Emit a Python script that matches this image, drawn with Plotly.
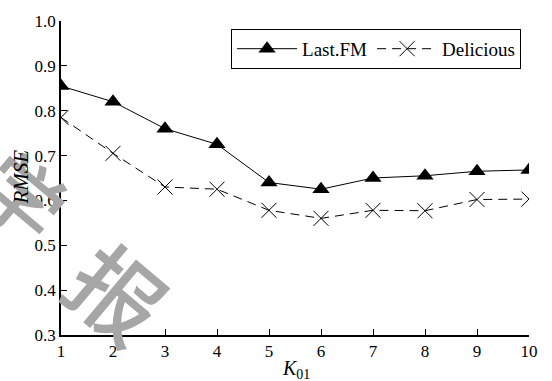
import plotly.graph_objects as go

k_values = [1, 2, 3, 4, 5, 6, 7, 8, 9, 10]
lastfm_rmse = [0.855, 0.820, 0.760, 0.725, 0.640, 0.625, 0.650, 0.655, 0.665, 0.668]
delicious_rmse = [0.785, 0.705, 0.630, 0.625, 0.578, 0.560, 0.578, 0.577, 0.602, 0.603]
y_ticks = [0.3, 0.4, 0.5, 0.6, 0.7, 0.8, 0.9, 1.0]
y_tick_labels = ["0.3", "0.4", "0.5", "0.6", "0.7", "0.8", "0.9", "1.0"]
watermark_chars = ["学", "报"]

FONT = "Liberation Serif, Times New Roman, serif"

fig = go.Figure()
fig.add_trace(go.Scatter(
    x=k_values, y=lastfm_rmse, name="Last.FM", mode="lines+markers",
    line=dict(color="black", width=1),
    marker=dict(symbol="triangle-up", size=15, color="black"),
))
fig.add_trace(go.Scatter(
    x=k_values, y=delicious_rmse, name="Delicious", mode="lines+markers",
    line=dict(color="black", width=1, dash="9px,6px"),
    marker=dict(symbol="x-thin-open", size=15, color="black",
                line=dict(color="black", width=1)),
))

fig.update_layout(
    width=552, height=381,
    margin=dict(l=61, r=23, t=16, b=46),
    paper_bgcolor="white", plot_bgcolor="white",
    font=dict(family=FONT, size=16, color="black"),
    showlegend=True,
    legend=dict(
        orientation="h", x=0.983, xanchor="right", y=0.975, yanchor="top",
        bordercolor="black", borderwidth=1, bgcolor="white",
        font=dict(family=FONT, size=19), itemwidth=60,
    ),
    xaxis=dict(
        range=[1, 10], tickvals=k_values, ticks="inside", ticklen=6,
        tickcolor="black", showline=True, linecolor="black", linewidth=1.5,
        showgrid=False, zeroline=False, tickfont=dict(family=FONT, size=17),
    ),
    yaxis=dict(
        range=[0.3, 1.0], tickvals=y_ticks, ticktext=y_tick_labels,
        ticks="inside", ticklen=6, tickcolor="black", showline=True,
        linecolor="black", linewidth=1.5, showgrid=False, zeroline=False,
        tickfont=dict(family=FONT, size=17),
    ),
    xaxis2=dict(
        overlaying="x", side="top", range=[1, 10], showline=True,
        linecolor="#808080", linewidth=1.5, ticks="", showticklabels=False,
        showgrid=False, zeroline=False,
    ),
    yaxis2=dict(
        overlaying="y", side="right", range=[0.3, 1.0], tickvals=y_ticks,
        showline=True, linecolor="#808080", linewidth=1.5, ticks="inside",
        ticklen=6, tickcolor="#808080", showticklabels=False,
        showgrid=False, zeroline=False,
    ),
)

def px_to_paper(px, py):
    return (px - 61) / 468.0, (335 - py) / 319.0

for ch, (px, py), size in zip(watermark_chars, [(24, 192), (120, 290)], [84, 92]):
    xp, yp = px_to_paper(px, py)
    fig.add_annotation(text=ch, x=xp, y=yp, xref="paper", yref="paper",
                       xanchor="center", yanchor="middle",
                       showarrow=False, textangle=40,
                       font=dict(family="Noto Sans CJK SC", size=size,
                                 color="#a6a6a6", weight=500))

xp, yp = px_to_paper(21, 175)
fig.add_annotation(text="<i>RMSE</i>", x=xp, y=yp, xref="paper", yref="paper",
                   xanchor="center", yanchor="middle",
                   showarrow=False, textangle=-90,
                   font=dict(family=FONT, size=21, color="black"))
xp, yp = px_to_paper(296, 370)
fig.add_annotation(text="<i>K</i><sub>01</sub>", x=xp, y=yp, xref="paper", yref="paper",
                   xanchor="center", yanchor="middle",
                   showarrow=False, font=dict(family=FONT, size=20, color="black"))

fig.write_html("out.html")
